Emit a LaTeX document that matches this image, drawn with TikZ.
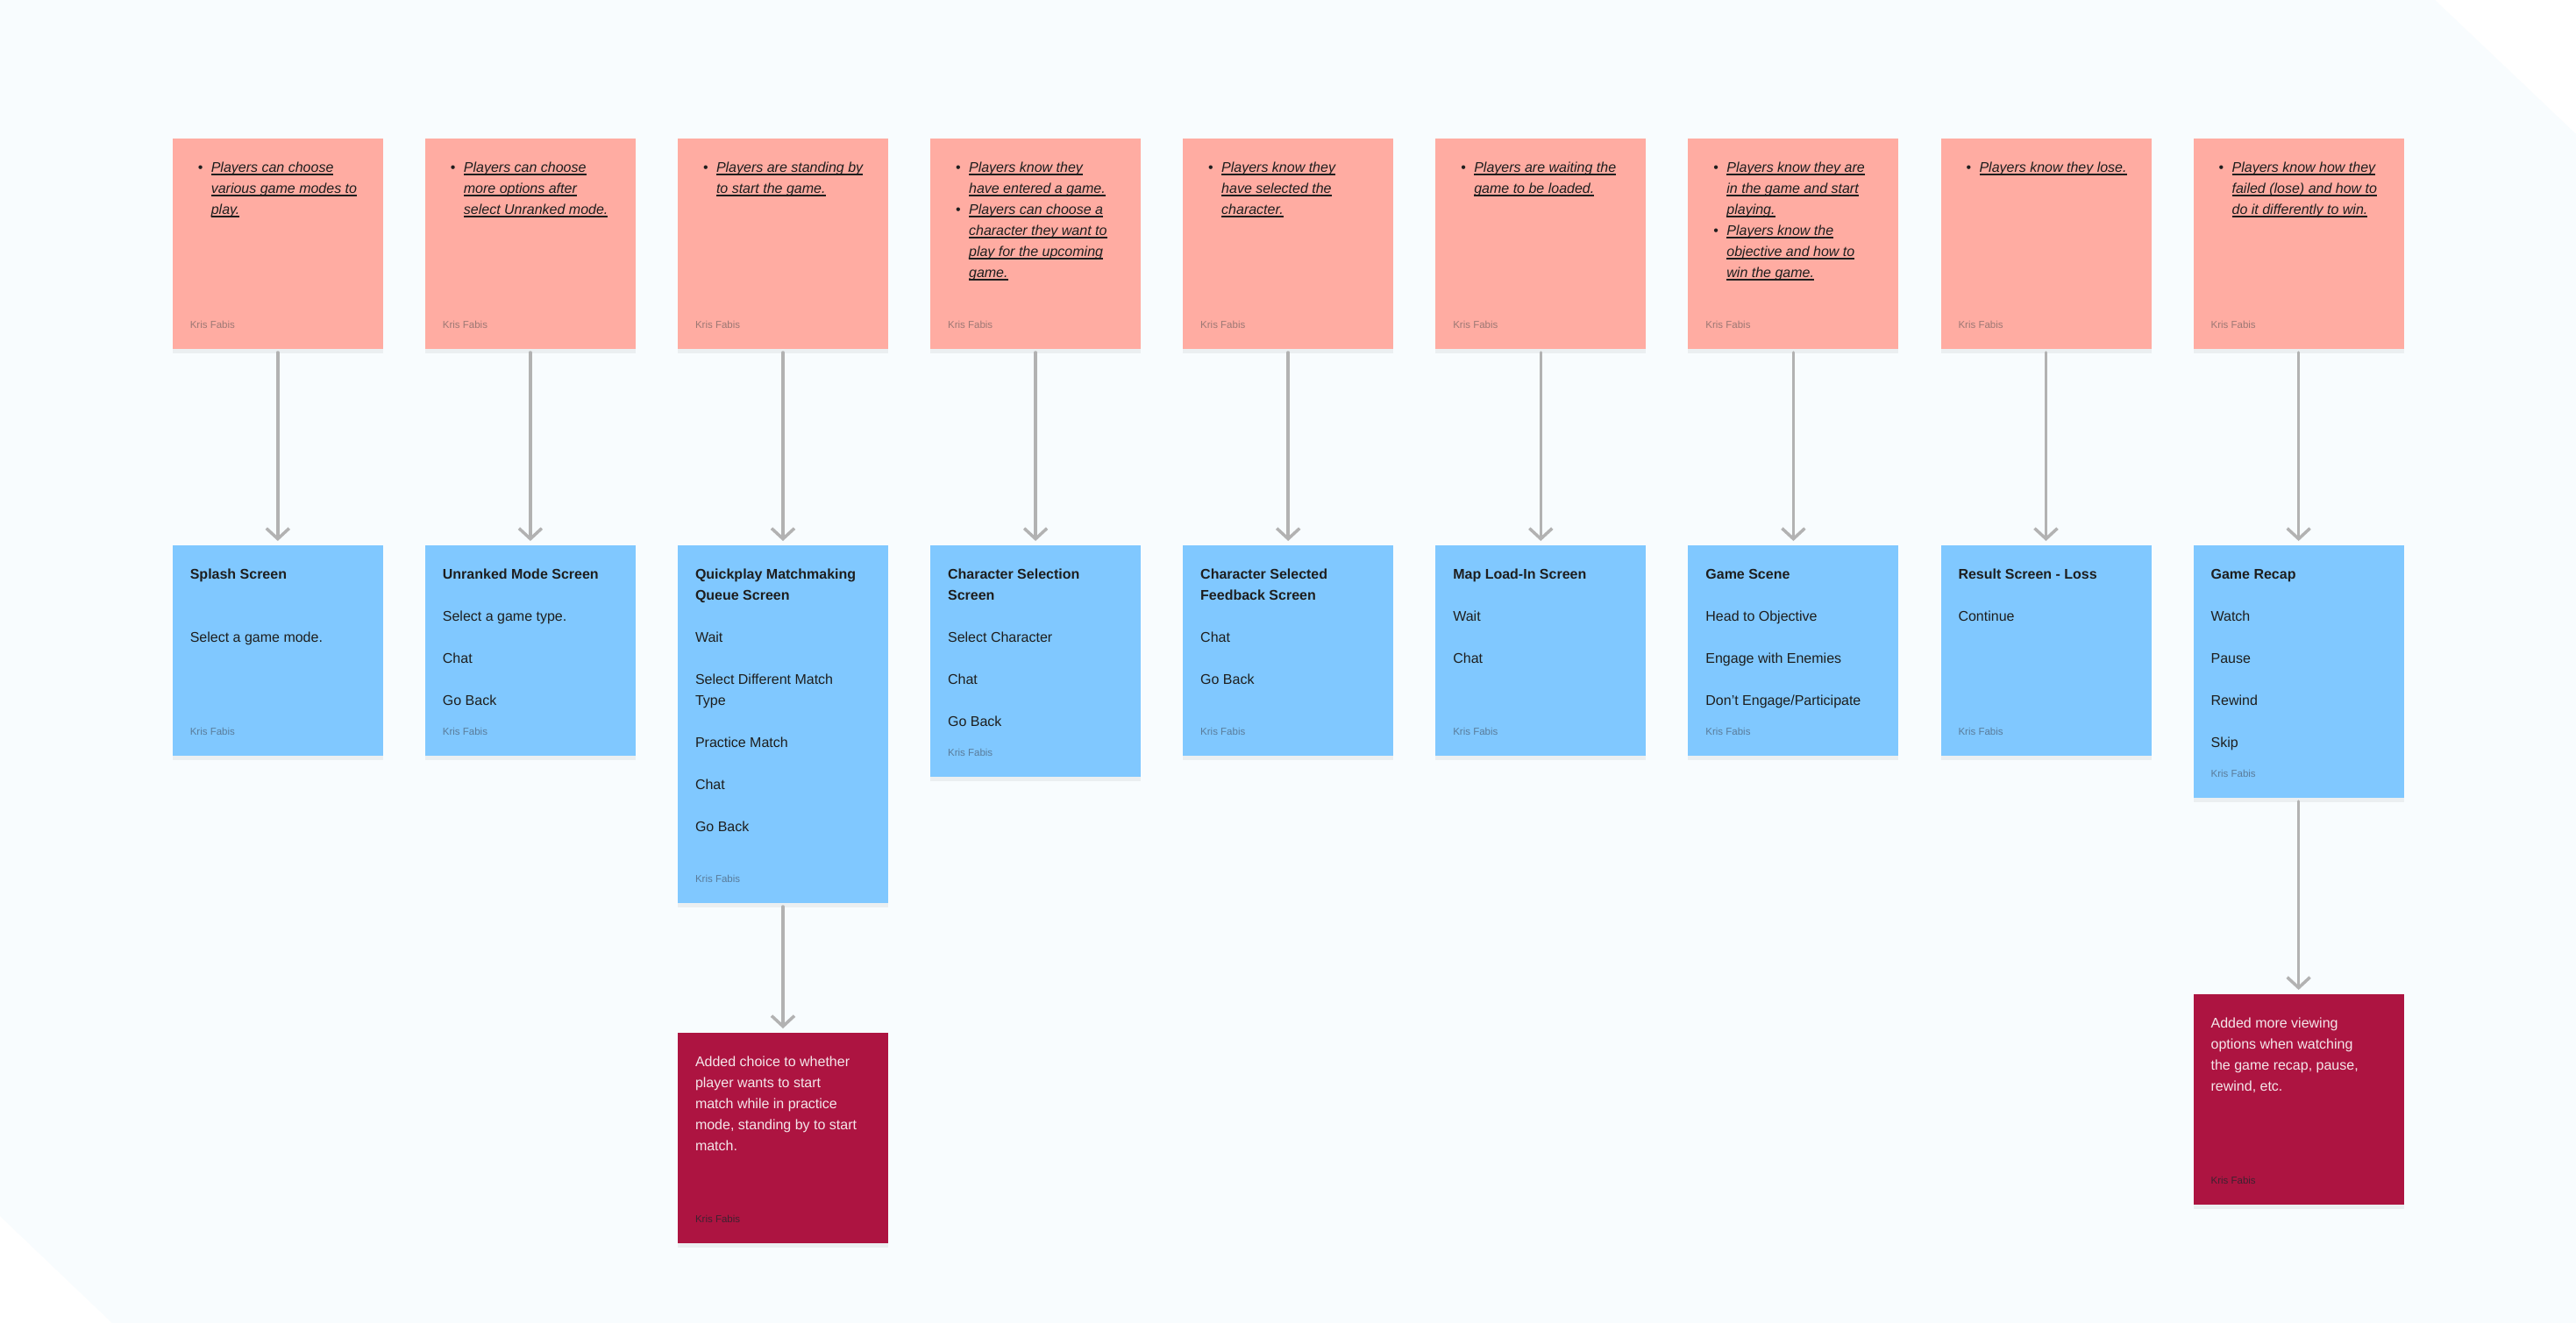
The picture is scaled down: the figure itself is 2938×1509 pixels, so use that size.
\documentclass[tikz,border=0pt]{standalone}
\usepackage{fontspec}
\setmainfont{Liberation Sans}
\usepackage{tikz}
\usetikzlibrary{arrows.meta,positioning,shadows}

\definecolor{bgblue}{HTML}{F8FCFE}
\definecolor{notepink}{HTML}{FFACA2}
\definecolor{noteblue}{HTML}{80C8FF}
\definecolor{notered}{HTML}{AD1441}
\definecolor{inkdark}{HTML}{1E1E1E}
\definecolor{pinkname}{HTML}{9C7874}
\definecolor{bluename}{HTML}{5A7C9A}
\definecolor{redname}{HTML}{3E2230}
\definecolor{redink}{HTML}{F4E6EA}
\definecolor{linkgray}{HTML}{B2B2B2}

% underlined line of text
\newsavebox{\ulinebox}
\newcommand{\uln}[1]{\leavevmode\sbox{\ulinebox}{#1}%
  \rlap{\rule[-3pt]{\wd\ulinebox}{1.1pt}}\usebox{\ulinebox}}
% note body: height, name colour, text
\newcommand{\sticky}[3]{%
  \begin{minipage}[t][\dimexpr#1-44pt\relax][s]{200pt}%
    \fontsize{16}{24}\selectfont\vspace*{7pt}#3\par\vfill
    {\fontsize{11.5}{13}\selectfont\color{#2}Kris Fabis\rule[-4pt]{0pt}{4pt}}%
  \end{minipage}}
% one bullet of a pink note
\newcommand{\bul}[1]{\par\noindent\hangindent=24pt\hangafter=1%
  \makebox[24pt][l]{\hspace{9pt}\textbullet}{\itshape#1}\par}

\begin{document}
\begin{tikzpicture}[>={Straight Barb[length=12pt,width=26pt]},
    note/.style={rectangle,inner sep=20pt,outer sep=0pt,text=inkdark,
      drop shadow={shadow xshift=0pt,shadow yshift=-5pt,opacity=0.1}},
    idea/.style={note,fill=notepink},
    screen/.style={note,fill=noteblue},
    change/.style={note,fill=notered,text=redink},
    link/.style={draw=linkgray,line width=3.5pt,line cap=round,line join=round,
      shorten >=5pt,shorten <=4pt}]
    % board
    \fill[white] (0,0) rectangle (2938pt,-1509pt);
    \fill[bgblue] (0,0) -- (2777pt,0) -- (2938pt,-153pt) -- (2938pt,-1509pt)
        -- (128pt,-1509pt) -- (0,-1387pt) -- cycle;
    \useasboundingbox (0,0) rectangle (2938pt,-1509pt);

    % what players know
    \node[idea]   (p1) at (196.8pt,-158pt) [anchor=north west] {\sticky{240pt}{pinkname}{%
        \bul{\uln{Players can choose}\\\uln{various game modes to}\\\uln{play.}}}};
    \node[idea]   (p2) [right=48.1pt of p1] {\sticky{240pt}{pinkname}{%
        \bul{\uln{Players can choose}\\\uln{more options after}\\\uln{select Unranked mode.}}}};
    \node[idea]   (p3) [right=48.1pt of p2] {\sticky{240pt}{pinkname}{%
        \bul{\uln{Players are standing by}\\\uln{to start the game.}}}};
    \node[idea]   (p4) [right=48.1pt of p3] {\sticky{240pt}{pinkname}{%
        \bul{\uln{Players know they}\\\uln{have entered a game.}}
        \bul{\uln{Players can choose a}\\\uln{character they want to}\\\uln{play for the upcoming}\\\uln{game.}}}};
    \node[idea]   (p5) [right=48.1pt of p4] {\sticky{240pt}{pinkname}{%
        \bul{\uln{Players know they}\\\uln{have selected the}\\\uln{character.}}}};
    \node[idea]   (p6) [right=48.1pt of p5] {\sticky{240pt}{pinkname}{%
        \bul{\uln{Players are waiting the}\\\uln{game to be loaded.}}}};
    \node[idea]   (p7) [right=48.1pt of p6] {\sticky{240pt}{pinkname}{%
        \bul{\uln{Players know they are}\\\uln{in the game and start}\\\uln{playing.}}
        \bul{\uln{Players know the}\\\uln{objective and how to}\\\uln{win the game.}}}};
    \node[idea]   (p8) [right=48.1pt of p7] {\sticky{240pt}{pinkname}{%
        \bul{\uln{Players know they lose.}}}};
    \node[idea]   (p9) [right=48.1pt of p8] {\sticky{240pt}{pinkname}{%
        \bul{\uln{Players know how they}\\\uln{failed (lose) and how to}\\\uln{do it differently to win.}}}};

    % screens
    \node[screen] (b1) [below=224pt of p1] {\sticky{240pt}{bluename}{%
        \textbf{Splash Screen}\\[48pt]Select a game mode.}};
    \node[screen] (b2) [below=224pt of p2] {\sticky{240pt}{bluename}{%
        \textbf{Unranked Mode Screen}\\[24pt]Select a game type.\\[24pt]Chat\\[24pt]Go Back}};
    \node[screen] (b3) [below=224pt of p3] {\sticky{408pt}{bluename}{%
        \textbf{Quickplay Matchmaking\\Queue Screen}\\[24pt]Wait\\[24pt]Select Different Match\\Type%
        \\[24pt]Practice Match\\[24pt]Chat\\[24pt]Go Back}};
    \node[screen] (b4) [below=224pt of p4] {\sticky{264pt}{bluename}{%
        \textbf{Character Selection\\Screen}\\[24pt]Select Character\\[24pt]Chat\\[24pt]Go Back}};
    \node[screen] (b5) [below=224pt of p5] {\sticky{240pt}{bluename}{%
        \textbf{Character Selected\\Feedback Screen}\\[24pt]Chat\\[24pt]Go Back}};
    \node[screen] (b6) [below=224pt of p6] {\sticky{240pt}{bluename}{%
        \textbf{Map Load-In Screen}\\[24pt]Wait\\[24pt]Chat}};
    \node[screen] (b7) [below=224pt of p7] {\sticky{240pt}{bluename}{%
        \textbf{Game Scene}\\[24pt]Head to Objective\\[24pt]Engage with Enemies\\[24pt]Don’t Engage/Participate}};
    \node[screen] (b8) [below=224pt of p8] {\sticky{240pt}{bluename}{%
        \textbf{Result Screen - Loss}\\[24pt]Continue}};
    \node[screen] (b9) [below=224pt of p9] {\sticky{288pt}{bluename}{%
        \textbf{Game Recap}\\[24pt]Watch\\[24pt]Pause\\[24pt]Rewind\\[24pt]Skip}};

    % changes
    \node[change] (r3) [below=148pt of b3] {\sticky{240pt}{redname}{%
        Added choice to whether\\player wants to start\\match while in practice\\mode, standing by to start\\match.}};
    \node[change] (r9) [below=224pt of b9] {\sticky{240pt}{redname}{%
        Added more viewing\\options when watching\\the game recap, pause,\\rewind, etc.}};

    \path[->,link] (p1) edge (b1)
                   (p2) edge (b2)
                   (p3) edge (b3)
                   (p4) edge (b4)
                   (p5) edge (b5)
                   (p6) edge (b6)
                   (p7) edge (b7)
                   (p8) edge (b8)
                   (p9) edge (b9)
                   (b3) edge (r3)
                   (b9) edge (r9)
                   ;
\end{tikzpicture}
\end{document}
